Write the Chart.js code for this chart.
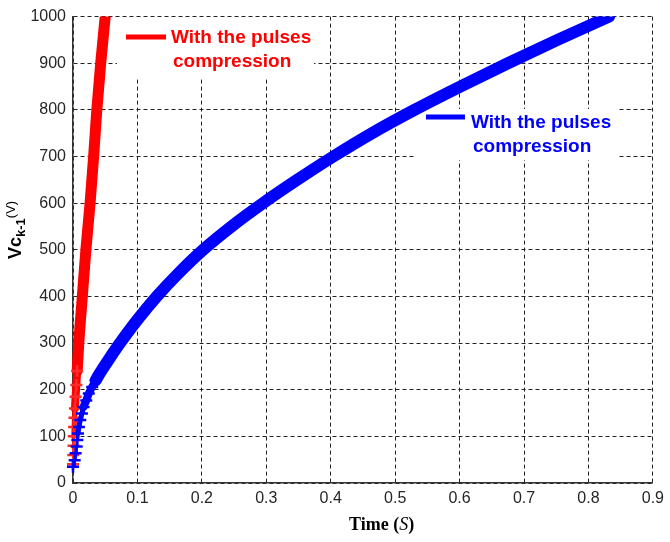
<!DOCTYPE html>
<html>
<head>
<meta charset="utf-8">
<script src="https://cdn.jsdelivr.net/npm/chart.js@4.4.1/dist/chart.umd.min.js"></script>
<style>
  html, body { margin: 0; padding: 0; background: #fff; }
  #wrap { width: 670px; height: 542px; position: relative; }
</style>
</head>
<body>
<div id="wrap"><canvas id="chart"></canvas></div>
<script>
// Red curve (steep charge)
const redTime = [0, 0.0004, 0.0008, 0.0012, 0.0017, 0.0023, 0.003, 0.004, 0.0052, 0.0065, 0.009, 0.0145, 0.02, 0.0265, 0.032, 0.037, 0.043, 0.05];
const redVolt = [40, 60, 80, 100, 120, 140, 160, 185, 210, 240, 300, 400, 500, 600, 700, 800, 900, 1000];

// Blue curve (slow charge)
const blueTime = [0, 0.0026, 0.0041, 0.0057, 0.0067, 0.0077, 0.0092, 0.0113, 0.0138, 0.0164, 0.0206, 0.0245, 0.0298, 0.0352, 0.041, 0.048, 0.058, 0.073, 0.1, 0.13, 0.164, 0.202, 0.246, 0.295, 0.348, 0.404, 0.464, 0.53, 0.601, 0.675, 0.752, 0.832];
const blueVolt = [35, 49, 64, 78, 92, 106, 120, 135, 149, 163, 177, 192, 206, 220, 234, 249, 270, 300, 350, 400, 450, 500, 550, 600, 650, 700, 750, 800, 850, 900, 950, 1000];

const xTickLabels = ['0', '0.1', '0.2', '0.3', '0.4', '0.5', '0.6', '0.7', '0.8', '0.9'];
const yTickLabels = ['0', '100', '200', '300', '400', '500', '600', '700', '800', '900', '1000'];

const legendText = ['With the pulses', 'compression'];

const toPoints = (xs, ys) => xs.map((x, i) => ({ x: x, y: ys[i] }));

// crosses only at the low part, the band gets thicker going up
const crossRadius = (limit) => (c) => (c.raw && c.raw.y < limit ? 6 : 0);
const bandWidth = (w) => (c) => {
  const v = c.p0.parsed.y;
  if (v < 100) return 2;
  if (v < 160) return 5;
  if (v < 220) return 8;
  return w;
};

const decor = {
  id: 'decor',
  beforeDatasetsDraw(chart) {
    const ctx = chart.ctx;
    ctx.save();
    // white boxes behind the labels hide the grid
    ctx.fillStyle = '#fff';
    ctx.fillRect(117, 17, 197, 60);
    ctx.fillRect(415, 109, 202, 51);

    const drawEntry = (color, x1, x2, ly, tx, b1, b2) => {
      ctx.strokeStyle = color;
      ctx.lineWidth = 5;
      ctx.beginPath();
      ctx.moveTo(x1, ly);
      ctx.lineTo(x2, ly);
      ctx.stroke();
      ctx.fillStyle = color;
      ctx.font = 'bold 19px "Liberation Sans", Arial, sans-serif';
      ctx.textBaseline = 'alphabetic';
      ctx.textAlign = 'left';
      ctx.fillText(legendText[0], tx, b1);
      ctx.fillText(legendText[1], tx + 2, b2);
    };
    drawEntry('#ff0000', 126, 166, 37, 171, 43, 66.5);
    drawEntry('#0000ff', 426, 465, 117, 471, 128, 151.5);
    ctx.restore();
  },
  afterDraw(chart) {
    const ctx = chart.ctx;
    ctx.save();
    ctx.fillStyle = '#000';
    ctx.textBaseline = 'alphabetic';
    ctx.textAlign = 'left';

    // y axis title: Vc_(k-1) (V), rotated
    ctx.translate(21, 259);
    ctx.rotate(-Math.PI / 2);
    let x = 0;
    ctx.font = 'bold 18px "Liberation Sans", Arial, sans-serif';
    ctx.fillText('Vc', x, 0);
    x += ctx.measureText('Vc').width;
    ctx.font = 'bold 13px "Liberation Sans", Arial, sans-serif';
    ctx.fillText('k-1', x, 4);
    x += ctx.measureText('k-1').width;
    ctx.font = '13px "Liberation Sans", Arial, sans-serif';
    ctx.fillText('(V)', x, -6);
    ctx.restore();

    // x axis title: Time (S)
    ctx.save();
    ctx.fillStyle = '#000';
    ctx.textBaseline = 'alphabetic';
    let tx = 349;
    const by = 530;
    ctx.font = 'bold 18px "Liberation Serif", "Times New Roman", serif';
    ctx.fillText('Time (', tx, by);
    tx += ctx.measureText('Time (').width;
    ctx.font = 'italic 18px "Liberation Serif", "Times New Roman", serif';
    ctx.fillText('S', tx, by);
    tx += ctx.measureText('S').width;
    ctx.font = 'bold 18px "Liberation Serif", "Times New Roman", serif';
    ctx.fillText(')', tx, by);
    ctx.restore();
  }
};

const tickFont = { family: '"Liberation Sans", Arial, sans-serif', size: 16 };

new Chart(document.getElementById('chart'), {
  type: 'scatter',
  data: {
    datasets: [
      {
        label: 'blue',
        data: toPoints(blueTime, blueVolt),
        showLine: true,
        order: 0,
        borderColor: '#0000ff',
        backgroundColor: '#0000ff',
        borderWidth: 12,
        borderJoinStyle: 'round',
        borderCapStyle: 'round',
        pointStyle: 'cross',
        pointRadius: crossRadius(240),
        pointBorderWidth: 2.5,
        pointBorderColor: '#0000ff',
        cubicInterpolationMode: 'monotone',
        segment: { borderWidth: bandWidth(12) },
        clip: { left: 10, top: 0, right: 0, bottom: 10 }
      },
      {
        label: 'red',
        data: toPoints(redTime, redVolt),
        showLine: true,
        order: 1,
        borderColor: '#ff0000',
        backgroundColor: '#ff0000',
        borderWidth: 11,
        borderJoinStyle: 'round',
        borderCapStyle: 'round',
        pointStyle: 'cross',
        pointRadius: crossRadius(250),
        pointBorderWidth: 2.5,
        pointBorderColor: '#ff2a2a',
        cubicInterpolationMode: 'monotone',
        segment: { borderWidth: bandWidth(11) },
        clip: { left: 10, top: 0, right: 0, bottom: 10 }
      }
    ]
  },
  options: {
    responsive: true,
    maintainAspectRatio: false,
    animation: false,
    layout: { padding: { left: 0, top: 15, right: 11, bottom: 0 } },
    plugins: {
      legend: { display: false },
      tooltip: { enabled: false }
    },
    scales: {
      x: {
        type: 'linear',
        min: 0,
        max: 0.9,
        ticks: {
          stepSize: 0.1,
          color: '#262626',
          font: tickFont,
          padding: 6,
          maxRotation: 0,
          callback: (v, i) => xTickLabels[i]
        },
        grid: { color: '#222', lineWidth: 1, drawTicks: false },
        border: { display: true, color: '#333', width: 1.5, dash: [4, 3] },
        afterFit: (s) => { s.height = 59; }
      },
      y: {
        min: 0,
        max: 1000,
        ticks: {
          stepSize: 100,
          color: '#262626',
          font: tickFont,
          padding: 7,
          callback: (v, i) => yTickLabels[i]
        },
        grid: { color: '#222', lineWidth: 1, drawTicks: false },
        border: { display: true, color: '#333', width: 1.5, dash: [4, 3] },
        afterFit: (s) => { s.width = 73; }
      }
    }
  },
  plugins: [decor]
});
</script>
</body>
</html>
